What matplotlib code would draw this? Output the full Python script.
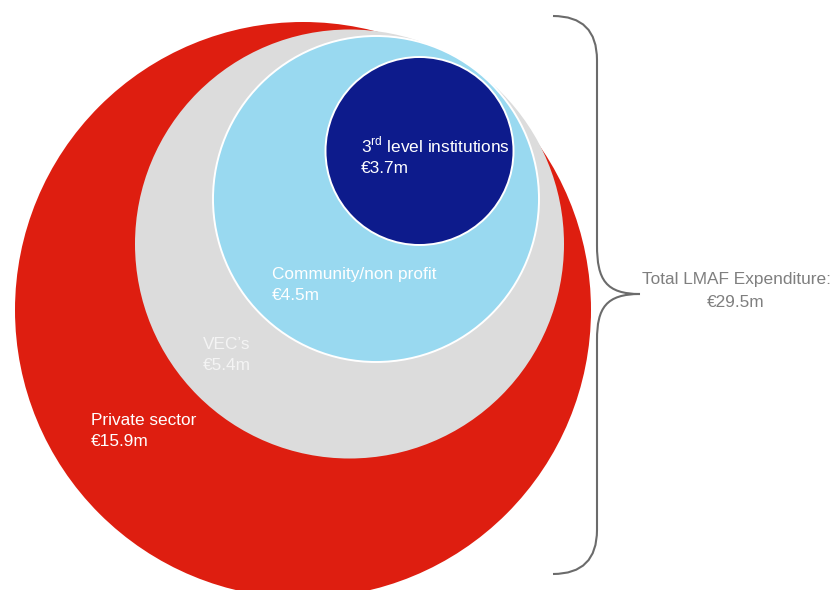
import matplotlib
matplotlib.use("Agg")
import matplotlib.pyplot as plt
from matplotlib.patches import Circle, PathPatch
from matplotlib.path import Path

plt.rcParams["font.family"] = ["Liberation Sans", "DejaVu Sans"]
plt.rcParams["mathtext.fontset"] = "custom"
plt.rcParams["mathtext.rm"] = "Liberation Sans"

# LMAF expenditure by provider type (EUR million), outermost ring first
categories = ["Private sector", "VEC\u2019s", "Community/non profit",
              r"3$^{\mathrm{rd}}$ level institutions"]
values = [15.9, 5.4, 4.5, 3.7]
total_label = "Total LMAF Expenditure:"
total_value = 29.5

colors = ["#DE1E10", "#DCDCDC", "#99D9F0", "#0D1B8C"]
edge_colors = ["none", "none", "white", "white"]
label_colors = ["white", "#F4F4F4", "white", "white"]

# nested circle layout (canvas pixel units)
centers = [(303, 310), (349.5, 244), (376, 199), (419.5, 151)]
radii = [288, 214.5, 163, 94]
label_pos = [(91, 425), (203, 349), (272, 279), (361, 152)]
line_gap = 21

fig = plt.figure(figsize=(8.33, 5.90), dpi=100)
ax = fig.add_axes([0, 0, 1, 1])
ax.set_xlim(0, 833)
ax.set_ylim(590, 0)
ax.set_aspect("equal")
ax.axis("off")

for (cx, cy), r, c, ec in zip(centers, radii, colors, edge_colors):
    ax.add_patch(Circle((cx, cy), r, facecolor=c, edgecolor=ec,
                        linewidth=1.4, zorder=2))

fs = 12.4
for name, v, (x, y), tc in zip(categories, values, label_pos, label_colors):
    ax.text(x, y, name, color=tc, fontsize=fs, va="baseline", ha="left",
            zorder=5)
    ax.text(x, y + line_gap, f"\u20ac{v:.1f}m", color=tc, fontsize=fs,
            va="baseline", ha="left", zorder=5)

# curly brace spanning the whole chart
verts = [
    (553, 16), (597, 16), (597, 60),
    (597, 245),
    (597, 280), (606, 294), (640, 294),
    (606, 294), (597, 308), (597, 340),
    (597, 530),
    (597, 574), (553, 574),
]
codes = [Path.MOVETO, Path.CURVE3, Path.CURVE3,
         Path.LINETO,
         Path.CURVE4, Path.CURVE4, Path.CURVE4,
         Path.CURVE4, Path.CURVE4, Path.CURVE4,
         Path.LINETO,
         Path.CURVE3, Path.CURVE3]
ax.add_patch(PathPatch(Path(verts, codes), facecolor="none",
                       edgecolor="#6B6B6B", linewidth=1.5, zorder=3))

ax.text(736, 284, total_label, color="#7F7F7F", fontsize=fs,
        ha="center", va="baseline")
ax.text(736, 307, f"\u20ac{total_value:.1f}m", color="#7F7F7F", fontsize=fs,
        ha="center", va="baseline")

fig.savefig("out.png", dpi=100)
